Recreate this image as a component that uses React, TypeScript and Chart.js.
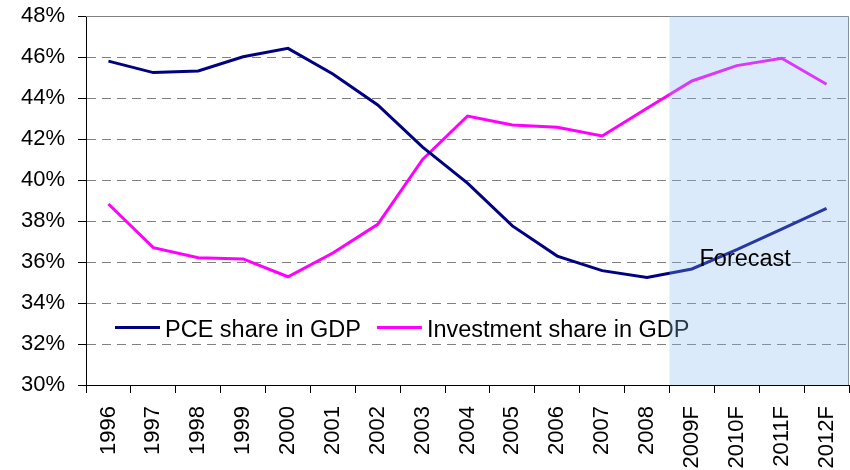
import React, { useEffect, useRef } from "react";
import { Chart, registerables } from "chart.js";

Chart.register(...registerables);

const categories = [
  "1996", "1997", "1998", "1999", "2000", "2001", "2002", "2003", "2004",
  "2005", "2006", "2007", "2008", "2009F", "2010F", "2011F", "2012F",
];
const pceShare = [
  45.8, 45.24, 45.32, 46.01, 46.42, 45.17, 43.66, 41.6, 39.85,
  37.76, 36.29, 35.58, 35.25, 35.66, 36.6, 37.6, 38.62,
];
const investmentShare = [
  38.83, 36.7, 36.21, 36.15, 35.28, 36.44, 37.84, 41.0, 43.12,
  42.68, 42.57, 42.15, 43.5, 44.83, 45.58, 45.94, 44.67,
];
const seriesLabels = ["PCE share in GDP", "Investment share in GDP"];
const yMin = 30;
const yMax = 48;
const yStep = 2;
const forecastStartIndex = 13;
const forecastLabel = "Forecast";

const FONT = "'Liberation Sans', Arial, sans-serif";

const overlayPlugin = {
  id: "overlayPlugin",
  beforeDatasetsDraw(chart: any) {
    const { ctx, chartArea } = chart;
    ctx.save();
    ctx.strokeStyle = "#808080";
    ctx.lineWidth = 1;
    ctx.beginPath();
    ctx.moveTo(chartArea.left, chartArea.top + 0.5);
    ctx.lineTo(chartArea.right - 0.5, chartArea.top + 0.5);
    ctx.lineTo(chartArea.right - 0.5, chartArea.bottom);
    ctx.stroke();
    ctx.restore();
  },
  afterDatasetsDraw(chart: any) {
    const { ctx, chartArea, scales } = chart;
    const xs = scales.x;
    const ys = scales.y;
    ctx.save();
    // legend
    ctx.font = `23.5px ${FONT}`;
    ctx.textBaseline = "alphabetic";
    ctx.textAlign = "left";
    let lx = chartArea.left + 29;
    const ly = ys.getPixelForValue(32.8);
    chart.data.datasets.forEach((ds: any) => {
      ctx.strokeStyle = ds.borderColor;
      ctx.lineWidth = 3;
      ctx.beginPath();
      ctx.moveTo(lx, ly);
      ctx.lineTo(lx + 45, ly);
      ctx.stroke();
      ctx.fillStyle = "#000";
      ctx.fillText(ds.label, lx + 50, ly + 9);
      lx += 50 + ctx.measureText(ds.label).width + 16;
    });
    // forecast overlay
    const x0 =
      (xs.getPixelForValue(forecastStartIndex - 1) +
        xs.getPixelForValue(forecastStartIndex)) /
      2;
    ctx.fillStyle = "rgba(132,185,242,0.3)";
    ctx.fillRect(x0, chartArea.top, chartArea.right - x0, chartArea.bottom - chartArea.top);
    ctx.fillStyle = "#000";
    ctx.fillText(forecastLabel, x0 + 30, ys.getPixelForValue(35.8));
    ctx.restore();
  },
};

function zeroPad(s: any) {
  s.paddingLeft = 0;
  s.paddingRight = 0;
  s.paddingTop = 0;
  s.paddingBottom = 0;
}

export default function App() {
  const ref = useRef<HTMLCanvasElement>(null);
  useEffect(() => {
    if (!ref.current) return;
    const chart = new Chart(ref.current, {
      type: "line",
      data: {
        labels: categories,
        datasets: [
          {
            label: seriesLabels[0],
            data: pceShare,
            borderColor: "#000080",
            backgroundColor: "#000080",
            borderWidth: 3,
            pointRadius: 0,
            tension: 0,
          },
          {
            label: seriesLabels[1],
            data: investmentShare,
            borderColor: "#FF00FF",
            backgroundColor: "#FF00FF",
            borderWidth: 3,
            pointRadius: 0,
            tension: 0,
          },
        ],
      },
      options: {
        animation: false,
        responsive: false,
        devicePixelRatio: 1,
        layout: { padding: { top: 16, right: 1, left: 0, bottom: 0 } },
        plugins: { legend: { display: false }, tooltip: { enabled: false } },
        scales: {
          x: {
            type: "category",
            offset: true,
            grid: {
              offset: true,
              drawOnChartArea: false,
              tickLength: 8,
              tickColor: "#000",
              color: "#000",
            },
            border: { color: "#000", width: 1 },
            ticks: {
              minRotation: 90,
              maxRotation: 90,
              autoSkip: false,
              padding: 13,
              color: "#000",
              font: { family: FONT, size: 22 },
            },
            afterFit(s: any) {
              s.height = 85;
              zeroPad(s);
            },
          },
          y: {
            min: yMin,
            max: yMax,
            ticks: {
              stepSize: yStep,
              padding: 13,
              color: "#000",
              font: { family: FONT, size: 22 },
              callback: (v: any) => `${v}%`,
            },
            grid: {
              color: "#808080",
              tickColor: "#000",
              tickLength: 8,
              tickBorderDash: [],
            },
            border: { color: "#000", width: 1, dash: [9, 6] },
            afterFit(s: any) {
              s.width = 86;
              zeroPad(s);
            },
          },
        },
      },
      plugins: [overlayPlugin],
    });
    return () => chart.destroy();
  }, []);
  return (
    <div style={{ position: "fixed", left: 0, top: 0, width: 850, height: 470, background: "#fff" }}>
      <canvas ref={ref} width={850} height={470} />
    </div>
  );
}
